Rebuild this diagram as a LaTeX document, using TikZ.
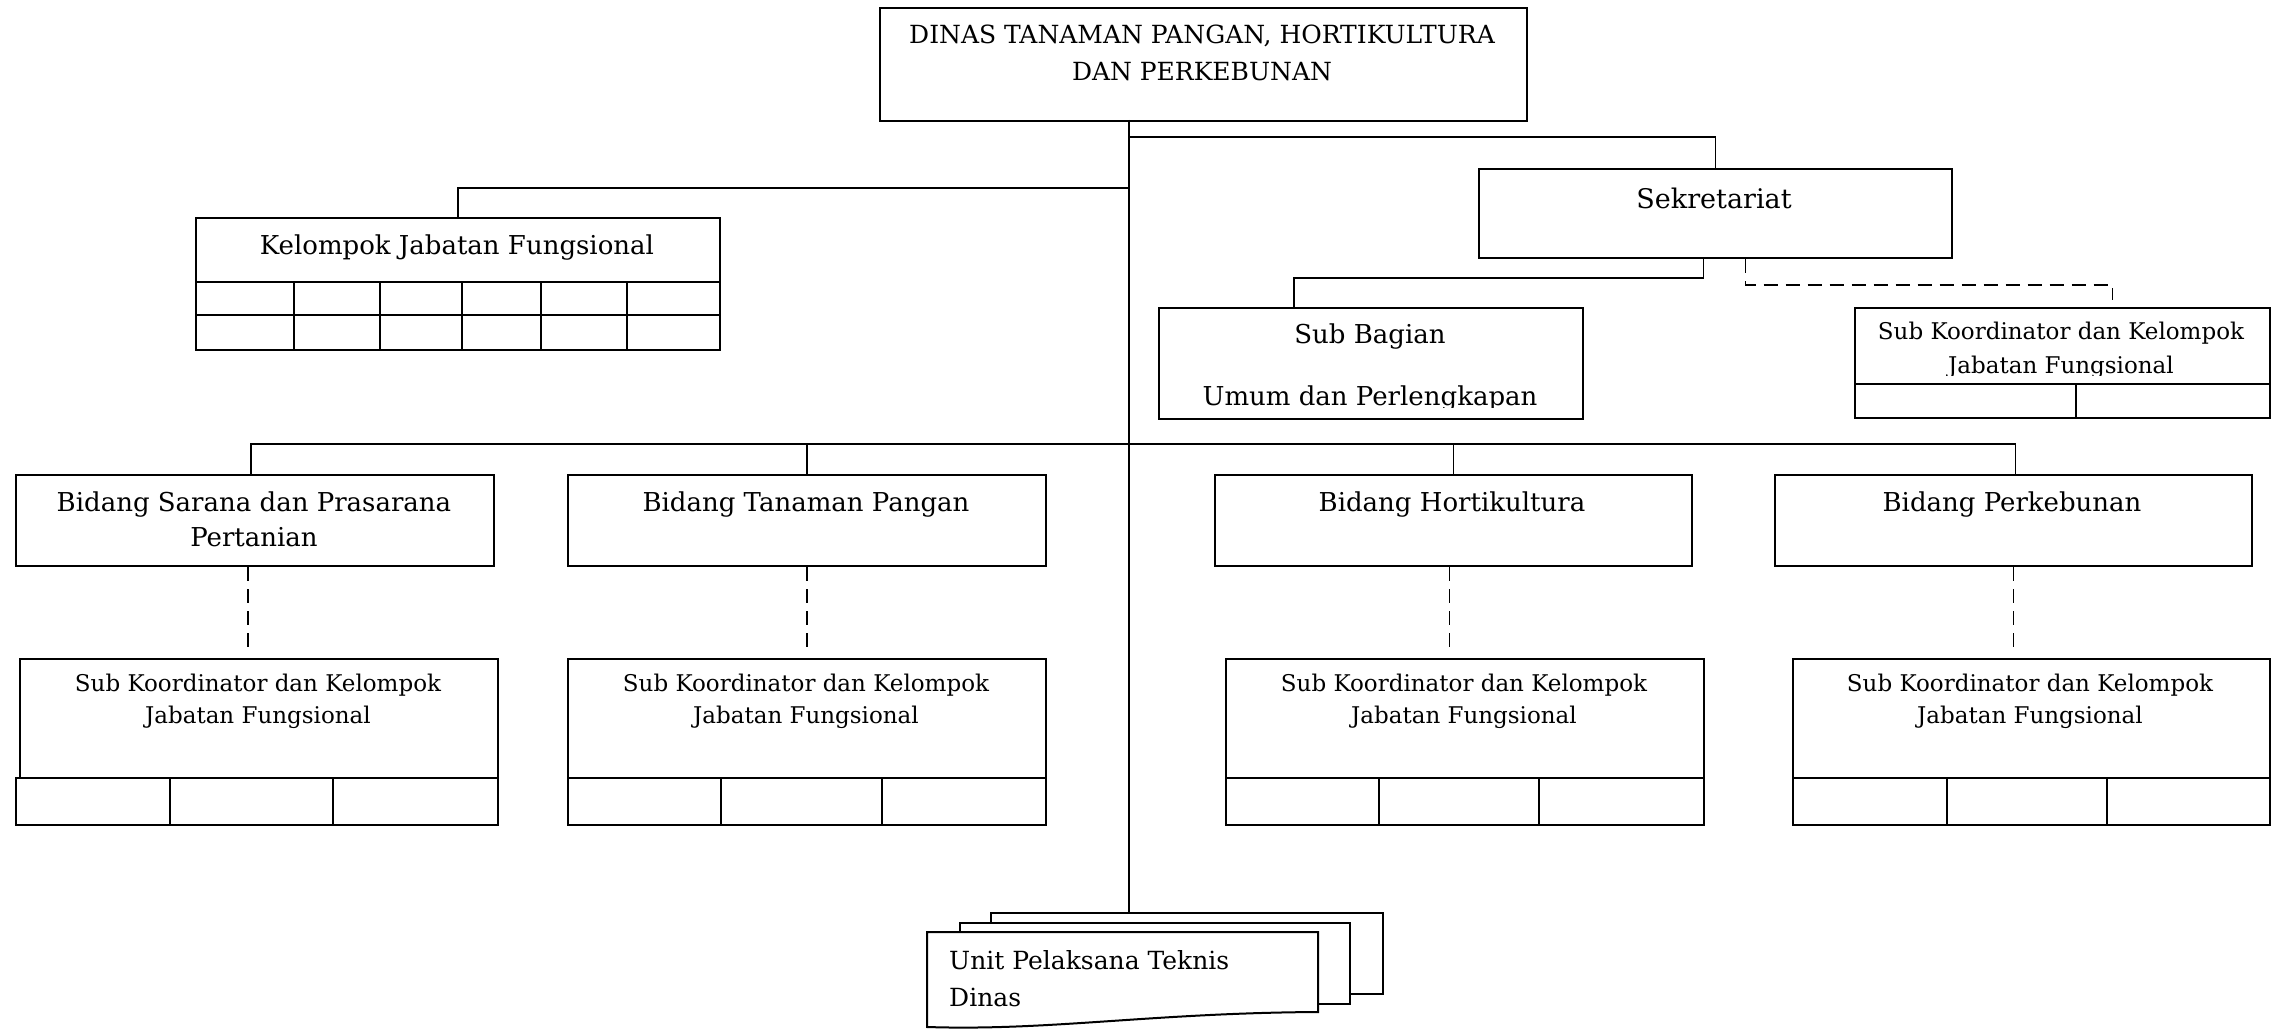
\documentclass[tikz,border=0pt]{standalone}
\usepackage{fontspec}
\setmainfont{DejaVu Serif}
\usetikzlibrary{calc}

\tikzset{
  box/.style={draw, line width=2pt, inner sep=0pt, fill=white},
  link/.style={line width=1.6pt},
  dlink/.style={line width=1.6pt, dash pattern=on 14pt off 8pt},
  cell/.style={line width=1.5pt},
  lbl/.style={inner sep=0pt, anchor=base},
  fA/.style={font=\fontsize{25}{30}\selectfont},
  fB/.style={font=\fontsize{26}{31}\selectfont},
  fC/.style={font=\fontsize{27}{32}\selectfont},
  fD/.style={font=\fontsize{23}{28}\selectfont},
}

% box given by name and its corners (x1,y1) (x2,y2), y measured downwards
\newcommand\orgbox[6][]{%
  \node[box,#1,anchor=north west,
        minimum width={(#5-#3)*1pt},minimum height={(#6-#4)*1pt}] (#2) at (#3,#4) {};}
% one line of text, placed by its baseline
\newcommand\tline[5][]{\node[lbl,#1] (#2) at (#3,#4) {#5};}

\begin{document}
\begin{tikzpicture}[x=1pt,y=-1pt]
\useasboundingbox (0,0) rectangle (2273,1030);

% ---- head of office
\orgbox{dinas}{879}{7}{1526}{120}
\tline[fA]{dinasA}{1202}{44}{DINAS TANAMAN PANGAN, HORTIKULTURA}
\tline[fA]{dinasB}{1202}{81}{DAN PERKEBUNAN}

% junctions on the main trunk
\coordinate (tk) at (1129,120);
\coordinate (j1) at (1129,137);
\coordinate (j2) at (1129,188);
\coordinate (j3) at (1129,444);

% ---- functional group
\orgbox{kjf}{195}{217}{719}{281}
\orgbox{kjfA}{195}{281}{719}{314}
\orgbox{kjfB}{195}{314}{719}{349}
\foreach \cx in {294,380,462,541,627}
  \draw[cell] (kjfA.north -| \cx,0) -- (kjfB.south -| \cx,0);
\tline[fB]{kjfT}{457}{254}{Kelompok Jabatan Fungsional}

% ---- secretariat
\orgbox{sek}{1478}{168}{1951}{257}
\tline[fC]{sekT}{1714}{208}{Sekretariat}

\orgbox{sb}{1158}{307}{1582}{418}
\begin{scope}
  \clip (sb.north west) rectangle (1582,407);
  \tline[fB]{sbA}{1370}{343}{Sub Bagian}
  \tline[fB]{sbB}{1370}{405}{Umum dan Perlengkapan}
\end{scope}

\orgbox{sks}{1854}{307}{2269}{383}
\begin{scope}
  \clip (sks.north west) rectangle (2269,375);
  \tline[fD]{sksA}{2061}{339}{Sub Koordinator dan Kelompok}
  \tline[fD]{sksB}{2061}{373}{Jabatan Fungsional}
\end{scope}
\orgbox{sksR}{1854}{383}{2269}{417}
\draw[cell] (sksR.north -| 2076,0) -- (sksR.south -| 2076,0);

% ---- divisions
\orgbox{bidA}{15}{474}{493}{565}
\orgbox{bidB}{567}{474}{1045}{565}
\orgbox{bidC}{1214}{474}{1691}{565}
\orgbox{bidD}{1774}{474}{2251}{565}
\tline[fB]{bidAa}{254}{511}{Bidang Sarana dan Prasarana}
\tline[fB]{bidAb}{254}{546}{Pertanian}
\tline[fB]{bidBa}{806}{511}{Bidang Tanaman Pangan}
\tline[fB]{bidCa}{1452}{511}{Bidang Hortikultura}
\tline[fB]{bidDa}{2012}{511}{Bidang Perkebunan}

% ---- coordinator groups under the divisions
\orgbox{skA}{19}{658}{497}{777}
\orgbox{skB}{567}{658}{1045}{777}
\orgbox{skC}{1225}{658}{1703}{777}
\orgbox{skD}{1792}{658}{2269}{777}
\orgbox{skAr}{15}{777}{497}{824}
\orgbox{skBr}{567}{777}{1045}{824}
\orgbox{skCr}{1225}{777}{1703}{824}
\orgbox{skDr}{1792}{777}{2269}{824}
\foreach \r/\a/\b in {skAr/170/333, skBr/721/882, skCr/1379/1539, skDr/1947/2107}{
  \draw[cell] (\r.north -| \a,0) -- (\r.south -| \a,0);
  \draw[cell] (\r.north -| \b,0) -- (\r.south -| \b,0);
}
\foreach \n/\cx in {skA/258, skB/806, skC/1464, skD/2030}{
  \tline[fD]{\n a}{\cx}{691}{Sub Koordinator dan Kelompok}
  \tline[fD]{\n b}{\cx}{723}{Jabatan Fungsional}
}

% ---- technical units (stacked documents)
\orgbox{uptC}{990}{912}{1382}{993}
\orgbox{uptB}{959}{922}{1349}{1003}
\draw[line width=2pt, fill=white] (927,932) -- (1318,932) -- (1318,1012)
  .. controls (1150,1013) and (1050,1031) .. (927,1027) -- cycle;
\tline[fA,anchor=base west]{uptA}{949}{969}{Unit Pelaksana Teknis}
\tline[fA,anchor=base west]{uptAb}{949}{1006}{Dinas}

% ---- connectors
\draw[link] (tk) -- (tk |- uptC.north);
\draw[link] (j1) -| (sek.north);
\draw[link] (j2) -| (kjf.north);
\draw[link] (j3) -| ([xshift=-4pt]bidA.north);
\draw[link] (j3) -| ([xshift=2pt]bidD.north);
\draw[link] (bidB.north |- j3) -- (bidB.north);
\draw[link] (bidC.north |- j3) -- (bidC.north);

\draw[link] ([xshift=-12pt]sek.south) -- ++(0,19) -| ([xshift=-77pt]sb.north);
\draw[dlink] ([xshift=30pt]sek.south) -- ++(0,26) -| ([xshift=50pt,yshift=7pt]sks.north);

\draw[dlink] ([xshift=-7pt]bidA.south) -- ([xshift=-7pt,yshift=9pt]bidA.south |- skA.north);
\draw[dlink] (bidB.south) -- ([yshift=9pt]bidB.south |- skB.north);
\draw[dlink] ([xshift=-4pt]bidC.south) -- ([xshift=-4pt,yshift=9pt]bidC.south |- skC.north);
\draw[dlink] (bidD.south) -- ([yshift=9pt]bidD.south |- skD.north);
\end{tikzpicture}
\end{document}
